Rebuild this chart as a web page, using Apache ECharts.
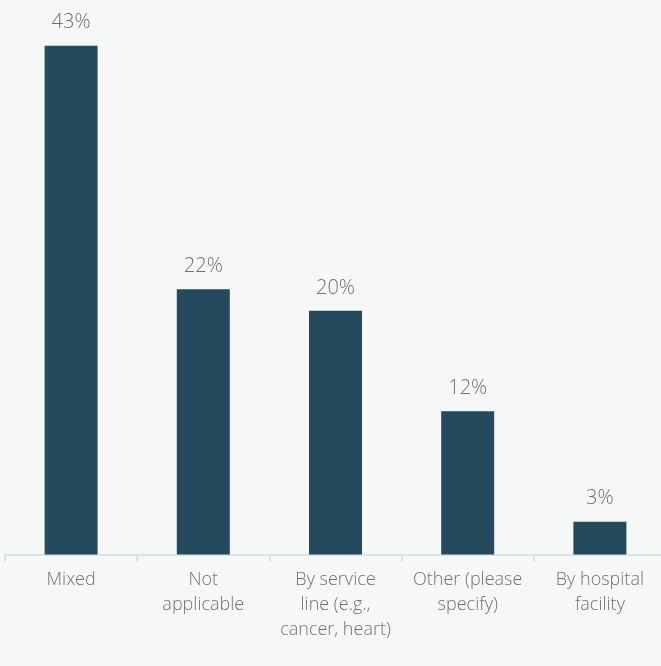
<!DOCTYPE html>
<html>
<head>
<meta charset="utf-8">
<script src="https://cdn.jsdelivr.net/npm/echarts@6/dist/echarts.min.js"></script>
<style>
html,body{margin:0;padding:0;background:#f6f8f8;}
#chart{width:661px;height:666px;}
</style>
</head>
<body>
<div id="chart"></div>
<script>
const categories = ['Mixed', 'Not\napplicable', 'By service\nline (e.g.,\ncancer, heart)', 'Other (please\nspecify)', 'By hospital\nfacility'];
const values = [42.6, 22.2, 20.4, 12.0, 2.75];

const chart = echarts.init(document.getElementById('chart'));
chart.setOption({
  backgroundColor: '#f6f8f8',
  animation: false,
  grid: { left: 5, width: 661, top: 17, bottom: 111.5, containLabel: false, outerBoundsMode: 'none' },
  xAxis: {
    type: 'category',
    data: categories,
    axisLine: { lineStyle: { color: '#d5e3eb', width: 2 } },
    axisTick: { show: true, length: 7, lineStyle: { color: '#d5e3eb', width: 2 } },
    axisLabel: {
      interval: 0,
      margin: 13,
      color: '#707070',
      fontFamily: 'Open Sans',
      fontWeight: 300,
      fontSize: 18,
      lineHeight: 25
    }
  },
  yAxis: {
    type: 'value',
    min: 0,
    max: 45,
    show: false,
    splitLine: { show: false }
  },
  series: [{
    type: 'bar',
    data: values,
    barWidth: 53,
    itemStyle: { color: '#254a5d' },
    label: {
      show: true,
      position: 'top',
      distance: 13,
      color: '#707070',
      fontFamily: 'Open Sans',
      fontWeight: 300,
      fontSize: 20,
      formatter: p => Math.round(p.value) + '%'
    }
  }]
});
</script>
</body>
</html>
